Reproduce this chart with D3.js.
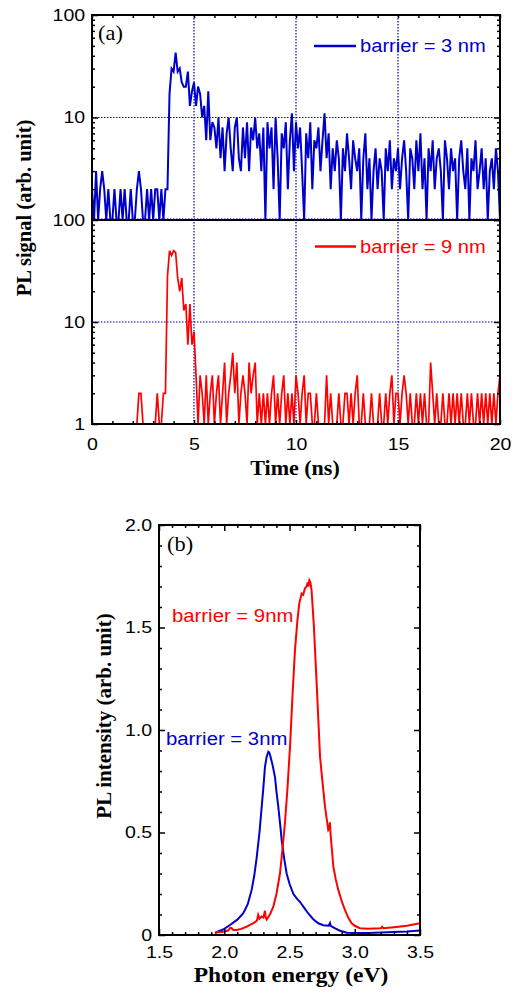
<!DOCTYPE html>
<html><head><meta charset="utf-8">
<script src="https://cdn.jsdelivr.net/npm/d3@7"></script>
<style>html,body{margin:0;padding:0;background:#fff;} svg{display:block}</style>
</head><body>
<svg id="c" width="517" height="994"></svg>
<script>
// ---------------- DATA ----------------
const timeStep = 0.1; // ns between samples, starting at 0 ns
// PL counts, barrier = 3 nm (t = 0.0 ... 20.0 ns)
const blueCounts = [
  2,1,3,1,2,3,2,1,2,1,
  1,2,1,1,2,1,2,1,1,2,
  1,1,2,3,2,1,1,2,1,2,
  1,2,2,1,2,1,2,2,17,30,
  28,43,28,30,22,20,20,28,13,18,
  22,13,20,17,10,13,6,18,6,9,
  8,5,10,4,8,3,7,10,5,3,
  8,10,4,3,8,4,9,3,8,6,
  10,5,7,3,8,1,9,5,8,2,
  10,4,1,7,5,9,2,6,11,3,
  9,5,8,3,1,7,4,9,2,6,
  5,8,3,6,11,4,7,2,5,3,
  6,4,1,5,3,7,4,2,6,4,
  3,5,1,4,7,2,4,1,3,5,
  2,4,3,1,5,3,6,2,4,3,
  5,2,4,6,3,1,5,4,2,6,
  3,7,2,4,1,5,3,6,2,4,
  5,3,1,6,4,2,5,3,4,1,
  4,6,3,2,5,1,4,3,6,2,
  3,5,2,4,1,3,4,2,5,3,
  1
];
// PL counts, barrier = 9 nm (0 = no count, not drawn on log axis)
const redCounts = [
  0,0,0,0,0,0,0,0,0,0,
  1,1,0,1,1,1,0,1,0,0,
  0,1,1,2,2,1,1,0,1,1,
  1,1,2,1,1,2,2,28,50,45,
  50,48,27,20,27,13,15,6,15,6,
  8,3,1,3,2,1,3,1,2,3,
  1,2,3,1,2,4,1,2,3,5,
  2,4,1,2,3,2,1,4,2,3,
  4,1,2,1,2,1,2,1,2,3,
  1,2,1,2,3,1,2,1,2,1,
  3,2,1,2,3,1,2,2,1,1,
  2,1,1,1,1,3,1,2,1,1,
  1,2,1,1,2,2,1,2,1,2,
  3,1,1,2,1,1,1,2,1,1,
  1,2,1,1,2,1,2,3,1,2,
  2,1,2,3,2,1,2,1,1,2,
  1,2,1,2,1,1,4,2,1,2,
  1,1,2,1,1,2,1,2,1,2,
  1,2,1,1,2,1,2,1,1,2,
  1,2,1,2,1,2,1,2,1,2,
  3
];
const timeTicks = [0,5,10,15,20];
const timeGrid = [5,10,15];
const logTicks = [1,10,100];

// PL spectra
const energy3 = [1.93,1.95,2.0,2.044,2.1,2.146,2.18,2.21,2.23,2.249,2.27,2.287,2.30,2.312,2.325,2.338,2.345,2.351,2.37,2.389,2.40,2.414,2.43,2.44,2.46,2.478,2.50,2.53,2.56,2.58,2.61,2.644,2.68,2.72,2.76,2.80,2.81,2.815,2.85,2.887,2.94,3.0,3.1,3.2,3.3,3.4,3.5];
const intensity3 = [0.008,0.016,0.03,0.049,0.075,0.106,0.15,0.22,0.29,0.38,0.50,0.626,0.72,0.82,0.87,0.894,0.89,0.878,0.83,0.77,0.70,0.626,0.53,0.463,0.37,0.30,0.25,0.20,0.175,0.162,0.135,0.105,0.078,0.057,0.048,0.045,0.058,0.045,0.032,0.021,0.011,0.01,0.01,0.012,0.015,0.017,0.022];
const energy9 = [1.93,1.98,2.03,2.045,2.057,2.07,2.094,2.13,2.17,2.197,2.23,2.25,2.26,2.27,2.286,2.30,2.312,2.318,2.325,2.35,2.376,2.40,2.427,2.445,2.465,2.485,2.504,2.524,2.542,2.56,2.575,2.593,2.605,2.618,2.63,2.64,2.645,2.652,2.66,2.669,2.687,2.708,2.734,2.746,2.772,2.797,2.805,2.81,2.815,2.836,2.855,2.874,2.90,2.925,2.95,2.976,3.0,3.04,3.1,3.2,3.21,3.22,3.3,3.4,3.5];
const intensity9 = [0.013,0.015,0.022,0.035,0.033,0.024,0.024,0.03,0.04,0.049,0.06,0.07,0.098,0.08,0.09,0.085,0.118,0.085,0.076,0.10,0.138,0.20,0.30,0.41,0.545,0.72,0.92,1.18,1.39,1.53,1.618,1.666,1.66,1.69,1.70,1.72,1.70,1.73,1.72,1.683,1.504,1.228,0.87,0.79,0.626,0.512,0.52,0.55,0.49,0.333,0.27,0.22,0.165,0.122,0.085,0.057,0.045,0.033,0.03,0.033,0.04,0.033,0.038,0.045,0.057];
const energyTicks = [1.5,2.0,2.5,3.0,3.5];
const intensityTicks = [0,0.5,1.0,1.5,2.0];
const intensityTickLabels = ["0","0.5","1.0","1.5","2.0"];

// ---------------- STYLE ----------------
const BLUE = "#0000cc", RED = "#ff0000";
const SANS = "'Liberation Sans', Arial, Helvetica, sans-serif";
const SERIF = "'Liberation Serif', 'Times New Roman', Times, serif";
const svg = d3.select('#c');

function label(x, y, s, o) {
  const t = svg.append('text')
    .attr('transform', `translate(${x},${y})` + (o.rot ? ` rotate(${o.rot})` : '') + ` scale(${o.sx || 1},1)`)
    .attr('text-anchor', o.anchor || 'start')
    .attr('font-family', o.family || SANS)
    .attr('font-size', o.size || 17)
    .attr('font-weight', o.weight || 'normal')
    .attr('fill', o.fill || '#000')
    .text(s);
  return t;
}
function styleAxis(g, sx) {
  g.select('.domain').remove();
  g.selectAll('.tick line').attr('stroke', '#000').attr('stroke-width', 1.5);
  g.selectAll('.tick text').attr('font-family', SANS).attr('font-size', 17).attr('fill', '#000')
    .attr('transform', `scale(${sx},1)`);
}
function range(a, b, s) { const r = []; for (let v = a; v <= b + 1e-9; v += s) r.push(+v.toFixed(4)); return r; }

// ---------------- PANEL (a) ----------------
const A = {l: 92, r: 500};
const TOP = {t: 15, b: 220}, BOT = {t: 220, b: 424};
const x = d3.scaleLinear().domain([0, 20]).range([A.l, A.r]);
const yTop = d3.scaleLog().domain([1, 100]).range([TOP.b, TOP.t]);
const yBot = d3.scaleLog().domain([1, 100]).range([BOT.b, BOT.t]);
const logMinor = [2,3,4,5,6,7,8,9,20,30,40,50,60,70,80,90];
const timeMinor = range(0, 20, 1).filter(v => v % 5 !== 0);

const defs = svg.append('defs');
defs.append('clipPath').attr('id', 'clipTop').append('rect')
  .attr('x', A.l).attr('y', TOP.t).attr('width', A.r - A.l).attr('height', TOP.b - TOP.t);
defs.append('clipPath').attr('id', 'clipBot').append('rect')
  .attr('x', A.l).attr('y', BOT.t).attr('width', A.r - A.l).attr('height', BOT.b - BOT.t);

// grid
const grid = svg.append('g').attr('stroke', BLUE).attr('stroke-width', 1.2).attr('stroke-dasharray', '1.5,1.5').attr('fill', 'none');
grid.selectAll('.vg').data(timeGrid).join('line')
  .attr('x1', d => x(d)).attr('x2', d => x(d)).attr('y1', TOP.t).attr('y2', BOT.b);
grid.append('line').attr('x1', A.l).attr('x2', A.r).attr('y1', yTop(10)).attr('y2', yTop(10));
grid.append('line').attr('x1', A.l).attr('x2', A.r).attr('y1', yBot(10)).attr('y2', yBot(10));
grid.append('line').attr('x1', A.l).attr('x2', A.r).attr('y1', yTop(1) - 1).attr('y2', yTop(1) - 1);

// traces
const blueData = blueCounts.map((v, i) => ({t: i * timeStep, v}));
const redData = redCounts.map((v, i) => ({t: i * timeStep, v}));
svg.append('path').datum(blueData).attr('clip-path', 'url(#clipTop)')
  .attr('fill', 'none').attr('stroke', BLUE).attr('stroke-width', 2).attr('stroke-linejoin', 'miter')
  .attr('d', d3.line().defined(d => d.v > 0).x(d => x(d.t)).y(d => yTop(d.v)));
svg.append('path').datum(redData).attr('clip-path', 'url(#clipBot)')
  .attr('fill', 'none').attr('stroke', RED).attr('stroke-width', 1.7)
  .attr('d', d3.line().defined(d => d.v > 0).x(d => x(d.t)).y(d => yBot(d.v)));

// axes panel (a)
let g;
g = svg.append('g').attr('transform', `translate(${A.l},0)`)
  .call(d3.axisLeft(yTop).tickValues([10, 100]).tickFormat(d3.format('d')).tickSizeInner(-6).tickSizeOuter(0).tickPadding(6));
styleAxis(g, 1.15);
g = svg.append('g').attr('transform', `translate(${A.l},0)`)
  .call(d3.axisLeft(yTop).tickValues(logMinor).tickFormat('').tickSizeInner(-3).tickSizeOuter(0));
styleAxis(g, 1);
g = svg.append('g').attr('transform', `translate(${A.r},0)`)
  .call(d3.axisRight(yTop).tickValues(logTicks).tickFormat('').tickSizeInner(-6).tickSizeOuter(0));
styleAxis(g, 1);
g = svg.append('g').attr('transform', `translate(${A.r},0)`)
  .call(d3.axisRight(yTop).tickValues(logMinor).tickFormat('').tickSizeInner(-3).tickSizeOuter(0));
styleAxis(g, 1);
g = svg.append('g').attr('transform', `translate(${A.l},0)`)
  .call(d3.axisLeft(yBot).tickValues(logTicks).tickFormat(d3.format('d')).tickSizeInner(-6).tickSizeOuter(0).tickPadding(6));
styleAxis(g, 1.15);
g = svg.append('g').attr('transform', `translate(${A.l},0)`)
  .call(d3.axisLeft(yBot).tickValues(logMinor).tickFormat('').tickSizeInner(-3).tickSizeOuter(0));
styleAxis(g, 1);
g = svg.append('g').attr('transform', `translate(${A.r},0)`)
  .call(d3.axisRight(yBot).tickValues(logTicks).tickFormat('').tickSizeInner(-6).tickSizeOuter(0));
styleAxis(g, 1);
g = svg.append('g').attr('transform', `translate(${A.r},0)`)
  .call(d3.axisRight(yBot).tickValues(logMinor).tickFormat('').tickSizeInner(-3).tickSizeOuter(0));
styleAxis(g, 1);
g = svg.append('g').attr('transform', `translate(0,${TOP.t})`)
  .call(d3.axisTop(x).tickValues(range(0, 20, 1)).tickFormat('').tickSizeInner(-3).tickSizeOuter(0));
styleAxis(g, 1);
g = svg.append('g').attr('transform', `translate(0,${BOT.b})`)
  .call(d3.axisBottom(x).tickValues(timeTicks).tickFormat(d3.format('d')).tickSizeInner(-4).tickSizeOuter(0).tickPadding(14));
styleAxis(g, 1.15);
g = svg.append('g').attr('transform', `translate(0,${BOT.b})`)
  .call(d3.axisBottom(x).tickValues(timeMinor).tickFormat('').tickSizeInner(-3).tickSizeOuter(0));
styleAxis(g, 1);

// frames
svg.append('rect').attr('x', A.l).attr('y', TOP.t).attr('width', A.r - A.l).attr('height', TOP.b - TOP.t)
  .attr('fill', 'none').attr('stroke', '#000').attr('stroke-width', 2);
svg.append('rect').attr('x', A.l).attr('y', BOT.t).attr('width', A.r - A.l).attr('height', BOT.b - BOT.t)
  .attr('fill', 'none').attr('stroke', '#000').attr('stroke-width', 2);

// legends panel (a)
svg.append('line').attr('x1', 314).attr('x2', 356).attr('y1', 46).attr('y2', 46).attr('stroke', BLUE).attr('stroke-width', 2.6);
label(360, 52, 'barrier = 3 nm', {size: 19, sx: 1.06, fill: BLUE});
svg.append('line').attr('x1', 315).attr('x2', 356).attr('y1', 246.5).attr('y2', 246.5).attr('stroke', RED).attr('stroke-width', 2.6);
label(360, 252.5, 'barrier = 9 nm', {size: 19, sx: 1.06, fill: RED});
label(98, 40, '(a)', {family: SERIF, size: 20, sx: 1.12});

// titles panel (a)
label(31, 208, 'PL signal (arb. unit)', {family: SERIF, weight: 'bold', size: 20.5, rot: -90, anchor: 'middle'});
label(295, 475, 'Time (ns)', {family: SERIF, weight: 'bold', size: 21, sx: 1.05, anchor: 'middle'});

// ---------------- PANEL (b) ----------------
const B = {l: 159, r: 420, t: 525, b: 935};
const xb = d3.scaleLinear().domain([1.5, 3.5]).range([B.l, B.r]);
const yb = d3.scaleLinear().domain([0, 2.0]).range([B.b, B.t]);
const eMinor = range(1.5, 3.5, 0.1).filter(v => !energyTicks.some(t => Math.abs(t - v) < 1e-6));
const iMinor = range(0, 2.0, 0.1).filter(v => !intensityTicks.some(t => Math.abs(t - v) < 1e-6));

const lineB = d3.line().x(d => xb(d[0])).y(d => yb(d[1]));
svg.append('path').datum(energy3.map((e, i) => [e, intensity3[i]]))
  .attr('fill', 'none').attr('stroke', BLUE).attr('stroke-width', 2).attr('d', lineB);
svg.append('path').datum(energy9.map((e, i) => [e, intensity9[i]]))
  .attr('fill', 'none').attr('stroke', RED).attr('stroke-width', 2).attr('d', lineB);

g = svg.append('g').attr('transform', `translate(${B.l},0)`)
  .call(d3.axisLeft(yb).tickValues(intensityTicks).tickFormat((d, i) => intensityTickLabels[i]).tickSizeInner(-6).tickSizeOuter(0).tickPadding(6));
styleAxis(g, 1.15);
g = svg.append('g').attr('transform', `translate(${B.l},0)`)
  .call(d3.axisLeft(yb).tickValues(iMinor).tickFormat('').tickSizeInner(-3).tickSizeOuter(0));
styleAxis(g, 1);
g = svg.append('g').attr('transform', `translate(${B.r},0)`)
  .call(d3.axisRight(yb).tickValues(intensityTicks).tickFormat('').tickSizeInner(-6).tickSizeOuter(0));
styleAxis(g, 1);
g = svg.append('g').attr('transform', `translate(${B.r},0)`)
  .call(d3.axisRight(yb).tickValues(iMinor).tickFormat('').tickSizeInner(-3).tickSizeOuter(0));
styleAxis(g, 1);
g = svg.append('g').attr('transform', `translate(0,${B.b})`)
  .call(d3.axisBottom(xb).tickValues(energyTicks).tickFormat(d3.format('.1f')).tickSizeInner(-6).tickSizeOuter(0).tickPadding(11));
styleAxis(g, 1.15);
g = svg.append('g').attr('transform', `translate(0,${B.b})`)
  .call(d3.axisBottom(xb).tickValues(eMinor).tickFormat('').tickSizeInner(-3).tickSizeOuter(0));
styleAxis(g, 1);
g = svg.append('g').attr('transform', `translate(0,${B.t})`)
  .call(d3.axisTop(xb).tickValues(energyTicks).tickFormat('').tickSizeInner(-6).tickSizeOuter(0));
styleAxis(g, 1);
g = svg.append('g').attr('transform', `translate(0,${B.t})`)
  .call(d3.axisTop(xb).tickValues(eMinor).tickFormat('').tickSizeInner(-3).tickSizeOuter(0));
styleAxis(g, 1);

svg.append('rect').attr('x', B.l).attr('y', B.t).attr('width', B.r - B.l).attr('height', B.b - B.t)
  .attr('fill', 'none').attr('stroke', '#000').attr('stroke-width', 2);

label(167, 551, '(b)', {family: SERIF, size: 20, sx: 1.12});
label(172, 621.5, 'barrier = 9nm', {size: 19, sx: 1.07, fill: RED});
label(166, 745, 'barrier = 3nm', {size: 19, sx: 1.07, fill: BLUE});
label(111, 716, 'PL intensity (arb. unit)', {family: SERIF, weight: 'bold', size: 21, rot: -90, anchor: 'middle'});
label(291, 982, 'Photon energy (eV)', {family: SERIF, weight: 'bold', size: 21, sx: 1.12, anchor: 'middle'});
</script>
</body></html>
